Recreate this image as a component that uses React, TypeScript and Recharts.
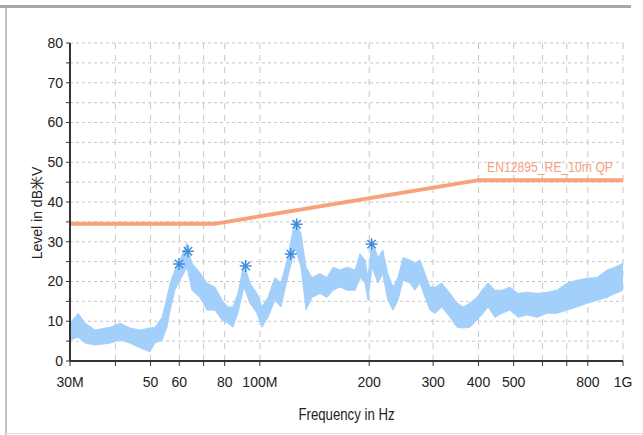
import {
  ComposedChart,
  Area,
  Line,
  Scatter,
  XAxis,
  YAxis,
  CartesianGrid,
} from 'recharts';

const FREQ = [
  30, 31.6, 33, 35.2, 38.7, 41.2, 43.9, 46.8, 49.8, 51.4, 53.8, 55.5, 56.6, 58.4, 60.3, 63, 65, 68.4,
  71.5, 75.2, 78.7, 81.7, 84.3, 87, 90.4, 93.9, 98.2, 101.3, 105.3, 110, 114.3, 118.8, 125, 129.8,
  134, 139.2, 146.4, 153, 159, 166, 174, 183, 188.7, 194.8, 198.5, 203.6, 211.5, 218, 225, 232.6,
  240, 248, 259, 267, 276, 285, 294, 304, 317, 334, 349, 363, 379, 396, 412, 425, 444, 464, 488,
  514, 544, 580, 618, 658, 701, 747, 796, 848, 904, 951, 1000,
];

const TRACE_HI = [
  9.5, 12, 9.5, 7.8, 8.5, 9.5, 8.3, 7.8, 8.3, 8.5, 11, 16, 19.5, 23, 25.5, 29.6, 24.6, 22.2,
  19.6, 18.6, 15.3, 13.6, 13.6, 17, 24.6, 19.6, 17, 13.6, 16, 21, 19.6, 25.4, 35.4, 32,
  23.6, 21, 22, 21, 23.6, 22.9, 23.6, 22.9, 27, 25.4, 21, 30.4, 26, 27.9, 22, 18.6,
  21, 26, 25.4, 24.6, 25.4, 22, 18.6, 18.6, 19.6, 17, 14.6, 13.6, 14.6, 16, 18.2, 19.6, 17.8, 17.8, 18.6,
  17, 17.3, 17, 17.3, 17.8, 19.6, 20.3, 20.8, 21, 22.9, 23.6, 24.6,
];

const TRACE_LO = [
  5.3, 6, 4.5, 4, 4.5, 5.3, 4.5, 3.3, 2.3, 4.5, 5.3, 8.5, 12.8, 18, 20.3, 23.6, 17.8, 16,
  12.8, 12.8, 10.3, 9.5, 8.5, 12, 18.6, 14.5, 12, 8.5, 11, 15.3, 13.6, 20.3, 28.6, 23.6,
  12.8, 16, 17, 16, 17.8, 18.6, 17.8, 17.8, 21, 19.6, 15.3, 23.6, 19.6, 22, 15.3, 12.8,
  15.3, 20.3, 19.6, 17.8, 19.6, 16, 12.8, 12, 13.6, 11, 8.5, 8.3, 8.5, 10.3, 12, 13.6, 11, 12, 12.8,
  11, 11.6, 11, 12, 12, 12.8, 13.6, 14.5, 15.3, 16, 17, 17.8,
];

const LIMIT_F = [30, 75, 400, 1000];
const LIMIT_DB = [34.5, 34.5, 45.5, 45.5];
const LIMIT_NAME = 'EN12895_RE_10m QP';

const PEAK_F = [59.9, 63.4, 91.4, 121.6, 126.3, 203];
const PEAK_DB = [24.4, 27.6, 23.9, 26.9, 34.4, 29.4];

const X_TICKS = [30, 40, 50, 60, 70, 80, 100, 200, 300, 400, 500, 600, 700, 800, 1000];
const X_LABELS: Record<number, string> = {
  30: '30M', 50: '50', 60: '60', 80: '80', 100: '100M', 200: '200',
  300: '300', 400: '400', 500: '500', 800: '800', 1000: '1G',
};
const Y_TICKS = [0, 5, 10, 15, 20, 25, 30, 35, 40, 45, 50, 55, 60, 65, 70, 75, 80];

const FONT = '"Liberation Sans", Arial, sans-serif';

const traceData = FREQ.map((f, i) => ({ f, lo: TRACE_LO[i], hi: TRACE_HI[i] }));
const limitData = LIMIT_F.map((f, i) => ({ f, v: LIMIT_DB[i] }));
const peakData = PEAK_F.map((f, i) => ({ f, v: PEAK_DB[i] }));

const Asterisk = ({ cx, cy }: any) => {
  const r = 6;
  const d = r * 0.7;
  return (
    <g stroke="#3d8ad6" strokeWidth={1.4}>
      <line x1={cx} y1={cy - r} x2={cx} y2={cy + r} />
      <line x1={cx - r} y1={cy} x2={cx + r} y2={cy} />
      <line x1={cx - d} y1={cy - d} x2={cx + d} y2={cy + d} />
      <line x1={cx - d} y1={cy + d} x2={cx + d} y2={cy - d} />
    </g>
  );
};

// the original uses a narrow font, so squeeze the longer texts a bit
const LimitLabel = ({ x, y, index }: any) => {
  if (index !== LIMIT_F.length - 1) return null;
  return (
    <text x={x - 10} y={y - 8} textAnchor="end" fill="#f3a27e" fontSize={14} fontFamily={FONT}
      textLength={126} lengthAdjust="spacingAndGlyphs">
      {LIMIT_NAME}
    </text>
  );
};

const XTitle = ({ viewBox }: any) => {
  const cx = viewBox.x + viewBox.width / 2;
  const cy = viewBox.y + 53;
  return (
    <text x={cx} y={cy} textAnchor="middle" dominantBaseline="central" fontSize={16} fill="#222"
      fontFamily={FONT} textLength={96} lengthAdjust="spacingAndGlyphs">
      Frequency in Hz
    </text>
  );
};

const YTitle = ({ viewBox }: any) => {
  const cx = viewBox.x + 37;
  const cy = viewBox.y + viewBox.height / 2 + 11;
  return (
    <text x={cx} y={cy} transform={`rotate(-90 ${cx} ${cy})`} textAnchor="middle"
      dominantBaseline="central" fontSize={14} fill="#222" fontFamily={FONT}>
      Level in dB米V
    </text>
  );
};

export default function App() {
  return (
    <div style={{ position: 'absolute', left: 0, top: 0, width: 643, height: 435, background: '#fff', overflow: 'hidden' }}>
      <div style={{ position: 'absolute', left: 0, top: 5, width: 631, height: 3, background: '#a8a8a8' }} />
      <div style={{ position: 'absolute', left: 5, top: 8, width: 2, height: 427, background: '#c2c2c2' }} />
      <div style={{ position: 'absolute', left: 5, top: 433, width: 638, height: 1, background: '#dcdcdc' }} />
      <ComposedChart
        width={643}
        height={435}
        data={traceData}
        margin={{ top: 43, right: 20, left: 0, bottom: 0 }}
        style={{ position: 'absolute', left: 0, top: 0 }}
      >
        <CartesianGrid vertical={false} stroke="#c6c6c6" strokeDasharray="3 3" />
        <CartesianGrid horizontal={false} stroke="#c6c6c6" strokeDasharray="6 6" />
        <XAxis
          dataKey="f"
          type="number"
          scale="log"
          domain={[30, 1000]}
          allowDataOverflow
          ticks={X_TICKS}
          interval={0}
          tickFormatter={(v) => X_LABELS[v] ?? ''}
          height={74}
          tickSize={5}
          tickMargin={11}
          axisLine={{ stroke: '#333', strokeWidth: 2 }}
          tickLine={{ stroke: '#333' }}
          tick={{ fontSize: 14, fill: '#222', fontFamily: FONT }}
          label={<XTitle />}
        />
        <YAxis
          type="number"
          domain={[0, 80]}
          ticks={Y_TICKS}
          interval={0}
          tickFormatter={(v) => (v % 10 === 0 ? String(v) : '')}
          width={70}
          tickSize={4}
          tickMargin={3}
          axisLine={{ stroke: '#333', strokeWidth: 2 }}
          tickLine={{ stroke: '#333' }}
          tick={{ fontSize: 14, fill: '#222', fontFamily: FONT }}
          label={<YTitle />}
        />
        <Area
          type="linear"
          dataKey={(d: any) => [d.lo, d.hi]}
          stroke="#a3cffb"
          strokeWidth={1}
          fill="#a3cffb"
          fillOpacity={1}
          isAnimationActive={false}
        />
        <Line
          data={limitData}
          type="linear"
          dataKey="v"
          stroke="#f7a27c"
          strokeWidth={4}
          dot={false}
          label={<LimitLabel />}
          isAnimationActive={false}
        />
        <Scatter data={peakData} dataKey="v" shape={<Asterisk />} isAnimationActive={false} />
      </ComposedChart>
    </div>
  );
}
